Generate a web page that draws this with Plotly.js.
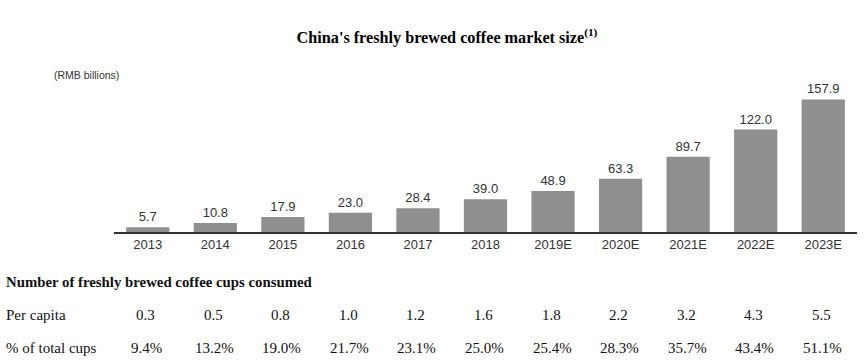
<!DOCTYPE html>
<html>
<head>
<meta charset="utf-8">
<script src="https://cdn.plot.ly/plotly-3.0.1.min.js"></script>
<style>html,body{margin:0;padding:0;background:#fff;}</style>
</head>
<body>
<div id="chart" style="width:864px;height:362px;"></div>
<script>
var years = ["2013","2014","2015","2016","2017","2018","2019E","2020E","2021E","2022E","2023E"];
var marketSize = [5.7, 10.8, 17.9, 23.0, 28.4, 39.0, 48.9, 63.3, 89.7, 122.0, 157.9];
var perCapita = ["0.3","0.5","0.8","1.0","1.2","1.6","1.8","2.2","3.2","4.3","5.5"];
var pctTotalCups = ["9.4%","13.2%","19.0%","21.7%","23.1%","25.0%","25.4%","28.3%","35.7%","43.4%","51.1%"];
var tableHeader = "Number of freshly brewed coffee cups consumed";
var rowLabels = ["Per capita", "% of total cups"];

var serif = "Liberation Serif, Times New Roman, serif";
var sans = "Liberation Sans, Arial, sans-serif";

var trace = {
  type: "bar",
  x: years,
  y: marketSize,
  marker: {color: "#8f8f8f"},
  text: marketSize.map(function(v){return v.toFixed(1);}),
  textposition: "outside",
  textfont: {family: sans, size: 13, color: "#333"},
  cliponaxis: false,
  hoverinfo: "x+y"
};

var annotations = [];
var ph = 172, axisY = 232;
function py(p){ return (axisY - p) / ph; }
var plotL = 114, plotW = 743;
function px(p){ return (p - plotL) / plotW; }
var tf = {family: serif, size: 15, color:"#111"};

annotations.push({xref:"paper", yref:"paper", x: px(4), y: py(282), xanchor:"left", yanchor:"middle",
  text: "<b>" + tableHeader + "</b>", showarrow:false, font:{family: serif, size: 14.8, color:"#111"}});
annotations.push({xref:"paper", yref:"paper", x: px(4), y: py(315), xanchor:"left", yanchor:"middle",
  text: rowLabels[0], showarrow:false, font: tf});
annotations.push({xref:"paper", yref:"paper", x: px(4), y: py(348), xanchor:"left", yanchor:"middle",
  text: rowLabels[1], showarrow:false, font: tf});
for (var i = 0; i < years.length; i++) {
  annotations.push({xref:"x", yref:"paper", x: i, y: py(315), xanchor:"center", yanchor:"middle",
    xshift: -2, text: perCapita[i], showarrow:false, font: tf});
  annotations.push({xref:"x", yref:"paper", x: i, y: py(348), xanchor:"center", yanchor:"middle",
    xshift: -1, text: pctTotalCups[i], showarrow:false, font: tf});
}
annotations.push({xref:"paper", yref:"paper", x: px(52), y: py(75), xanchor:"left", yanchor:"middle",
  text: "(RMB billions)", showarrow:false, font:{family: sans, size: 10.5, color:"#333"}});

var layout = {
  width: 864, height: 362,
  margin: {l: plotL, r: 864 - plotL - plotW, t: 60, b: 130, pad: 0},
  paper_bgcolor: "#fff", plot_bgcolor: "#fff",
  title: {
    text: "<b>China's freshly brewed coffee market size<sup>(1)</sup></b>",
    font: {family: serif, size: 16.2, color: "#000"},
    x: 447/864, xanchor: "center", xref: "container",
    y: 1 - 37/362, yanchor: "middle", yref: "container"
  },
  bargap: 0.36,
  xaxis: {
    type: "category",
    range: [-0.5, years.length - 0.5],
    showline: true, linecolor: "#333", linewidth: 1.5,
    ticks: "", showgrid: false, zeroline: false,
    tickfont: {family: sans, size: 13, color: "#333"},
    fixedrange: true
  },
  yaxis: {
    range: [0, 204.8], visible: false, showgrid: false, zeroline: false, fixedrange: true
  },
  showlegend: false,
  annotations: annotations
};

Plotly.newPlot("chart", [trace], layout, {displayModeBar: false, staticPlot: true});
</script>
</body>
</html>
